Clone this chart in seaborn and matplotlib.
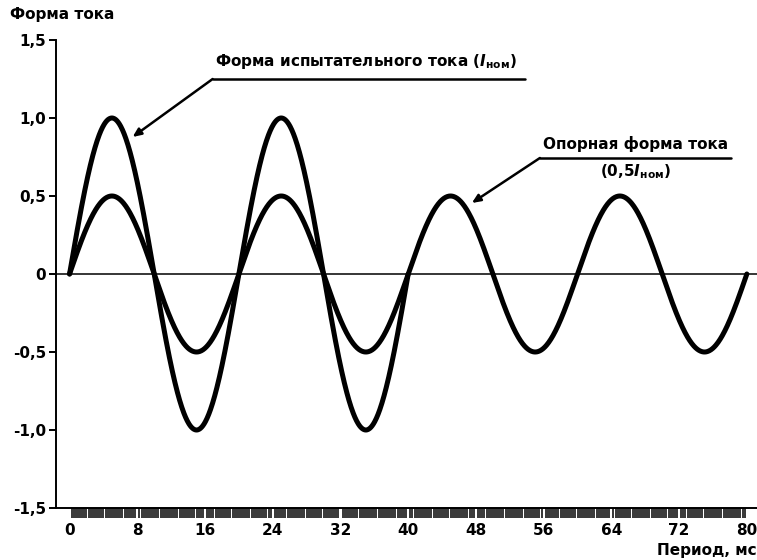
import numpy as np
import pandas as pd
import matplotlib
matplotlib.use("Agg")
import matplotlib.pyplot as plt
from matplotlib.ticker import FixedLocator
import seaborn as sns

# ---- data ----
period_ms = 20.0
test_amplitude = 1.0          # I_ном
test_duration_ms = 40.0
ref_amplitude = 0.5           # 0,5 I_ном
ref_duration_ms = 80.0

x_ticks = [0, 8, 16, 24, 32, 40, 48, 56, 64, 72, 80]
x_tick_labels = ["0", "8", "16", "24", "32", "40", "48", "56", "64", "72", "80"]
y_ticks = [-1.5, -1.0, -0.5, 0, 0.5, 1.0, 1.5]
y_tick_labels = ["-1,5", "-1,0", "-0,5", "0", "0,5", "1,0", "1,5"]

t_test = np.linspace(0, test_duration_ms, 801)
t_ref = np.linspace(0, ref_duration_ms, 1601)
df = pd.concat([
    pd.DataFrame({"t": t_test,
                  "i": test_amplitude * np.sin(2 * np.pi * t_test / period_ms),
                  "s": "test"}),
    pd.DataFrame({"t": t_ref,
                  "i": ref_amplitude * np.sin(2 * np.pi * t_ref / period_ms),
                  "s": "ref"}),
])

# ---- style ----
sns.set_style("white")
plt.rcParams["font.family"] = ["DejaVu Sans"]
plt.rcParams["font.weight"] = "bold"
plt.rcParams["mathtext.fontset"] = "dejavusans"
plt.rcParams["text.color"] = "black"
plt.rcParams["xtick.color"] = "black"
plt.rcParams["ytick.color"] = "black"
plt.rcParams["xtick.labelcolor"] = "black"
plt.rcParams["ytick.labelcolor"] = "black"

W, H = 757, 560
fig = plt.figure(figsize=(W / 100, H / 100), dpi=100)
ax = fig.add_axes([56 / W, 1 - 508 / H, (757 - 56) / W, (508 - 40) / H])

sns.lineplot(data=df, x="t", y="i", units="s", estimator=None,
             color="black", lw=3.6, ax=ax, legend=False)
ax.axhline(0, color="black", lw=1.1, zorder=1)

ax.set_xlim(-1.6, 81.2)
ax.set_ylim(-1.5, 1.5)
ax.set_xlabel("")
ax.set_ylabel("")

for s in ("top", "right"):
    ax.spines[s].set_visible(False)
for s in ("left", "bottom"):
    ax.spines[s].set_color("black")
    ax.spines[s].set_linewidth(1.4)

ax.xaxis.set_major_locator(FixedLocator(x_ticks))
ax.set_xticklabels(x_tick_labels)
ax.xaxis.set_minor_locator(FixedLocator(np.arange(0.25, 80.0, 0.25)))
ax.yaxis.set_major_locator(FixedLocator(y_ticks))
ax.set_yticklabels(y_tick_labels)

ax.tick_params(axis="x", which="major", direction="out", length=10, width=1.8,
               color="black", labelcolor="black", labelsize=11, pad=1)
ax.tick_params(axis="x", which="minor", direction="out", length=7, width=1.1,
               color="black", bottom=True)
ax.tick_params(axis="y", which="major", direction="out", length=5, width=1.4,
               color="black", labelcolor="black", labelsize=11, pad=2, left=True)
for lab in ax.get_xticklabels() + ax.get_yticklabels():
    lab.set_fontweight("bold")
    lab.set_color("black")

# axis titles
fig.text(10 / W, 1 - 14 / H, "Форма тока", fontsize=11, fontweight="bold",
         ha="left", va="center", color="black")
fig.text(757 / W, 1 - 550 / H, "Период, мс", fontsize=11, fontweight="bold",
         ha="right", va="center", color="black")

# annotations (pixel -> data helpers for placement)
def px(xp, yp):
    return ((xp - 70) / 8.46, (274 - yp) / 156.0)

arrow_kw = dict(arrowstyle="-|>,head_length=0.5,head_width=0.22",
                color="black", lw=1.8, shrinkA=0, shrinkB=0)

k1, t1 = px(213, 79), px(133, 137)
e1 = px(525, 79)
ax.annotate("", xy=t1, xytext=k1, arrowprops=arrow_kw)
ax.plot([k1[0], e1[0]], [k1[1], e1[1]], color="black", lw=1.8)
ax.text(*px(215, 71), "Форма испытательного тока ($I_{\\mathrm{ном}}$)",
        fontsize=11, fontweight="bold", ha="left", va="bottom", color="black")

k2, t2 = px(540, 158), px(472, 203)
e2 = px(731, 158)
ax.annotate("", xy=t2, xytext=k2, arrowprops=arrow_kw)
ax.plot([k2[0], e2[0]], [k2[1], e2[1]], color="black", lw=1.8)
ax.text(*px(636, 152), "Опорная форма тока",
        fontsize=11, fontweight="bold", ha="center", va="bottom", color="black")
ax.text(*px(636, 162), "(0,5$I_{\\mathrm{ном}}$)",
        fontsize=11, fontweight="bold", ha="center", va="top", color="black")

fig.savefig("out.png", dpi=100, facecolor="white")
